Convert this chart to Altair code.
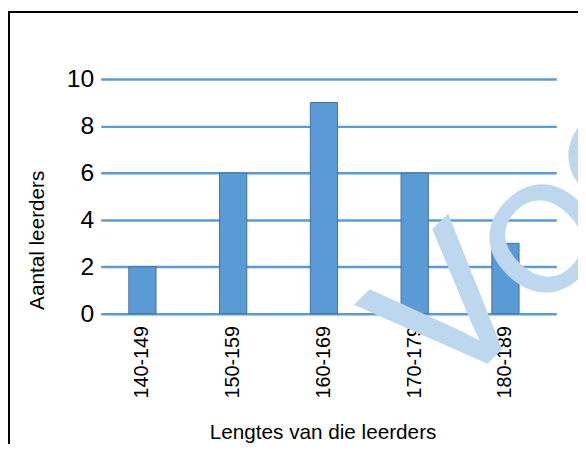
import altair as alt
import pandas as pd

categories = ["140-149", "150-159", "160-169", "170-179", "180-189"]
counts = [2, 6, 9, 6, 3]
y_ticks = [0, 2, 4, 6, 8, 10]
x_title = "Lengtes van die leerders"
y_title = "Aantal leerders"
watermark_first = "V"
watermark_rest = "OORBEELD"

df = pd.DataFrame({"lengte": categories, "aantal": counts})
one = pd.DataFrame({"k": [0]})

FONT = "Liberation Sans"
BLUE = "#5b9bd5"
WM = "#bdd7ee"

bars = alt.Chart(df).mark_bar(color=BLUE, stroke="#41719c", strokeWidth=1).encode(
    x=alt.X(
        "lengte:N",
        sort=categories,
        scale=alt.Scale(paddingInner=0.7, paddingOuter=0.36, align=0.43),
        axis=alt.Axis(
            title=x_title, labelAngle=-90, labelFontSize=20, labelPadding=12,
            domain=False, ticks=False, grid=False,
            titleFontSize=21, titleX=225, titleY=126, titleBaseline="alphabetic",
            titleFontWeight="normal", labelColor="black", titleColor="black",
        ),
    ),
    y=alt.Y(
        "aantal:Q",
        scale=alt.Scale(domain=[0, 10], nice=False),
        axis=alt.Axis(
            values=y_ticks, title=y_title, labelFontSize=25, labelPadding=7,
            domain=False, ticks=False, grid=True, gridColor=BLUE, gridWidth=2.5,
            gridOpacity=1, titleFontSize=21, titleAngle=270, titleX=-64.5,
            titleY=163, titleAlign="center", titleBaseline="middle",
            titleFontWeight="normal", labelColor="black", titleColor="black",
        ),
    ),
)

top_line = alt.Chart(one).mark_rule(color="black", strokeWidth=2).encode(
    x=alt.value(-94), x2=alt.value(500), y=alt.value(-68)
)
left_line = alt.Chart(one).mark_rule(color="black", strokeWidth=2).encode(
    x=alt.value(-93), y=alt.value(-69), y2=alt.value(400)
)

wm1 = alt.Chart(one).mark_text(
    text=watermark_first, fontSize=195, font=FONT, angle=316,
    align="left", baseline="alphabetic", color=WM, stroke=WM, strokeWidth=3,
).encode(x=alt.value(352), y=alt.value(325.5))
wm2 = alt.Chart(one).mark_text(
    text=watermark_rest, fontSize=148, font=FONT, angle=314,
    align="left", baseline="alphabetic", color=WM, stroke=WM, strokeWidth=3,
).encode(x=alt.value(446), y=alt.value(238.5))

chart = alt.layer(bars, top_line, left_line, wm1, wm2).properties(
    width=462, height=238,
    autosize=alt.AutoSizeParams(type="none"),
    padding={"left": 94, "top": 69, "right": 22, "bottom": 129},
).configure_view(stroke=None).configure_axis(labelFont=FONT, titleFont=FONT)

chart.save("out.html", embed_options={"renderer": "svg", "actions": False})
